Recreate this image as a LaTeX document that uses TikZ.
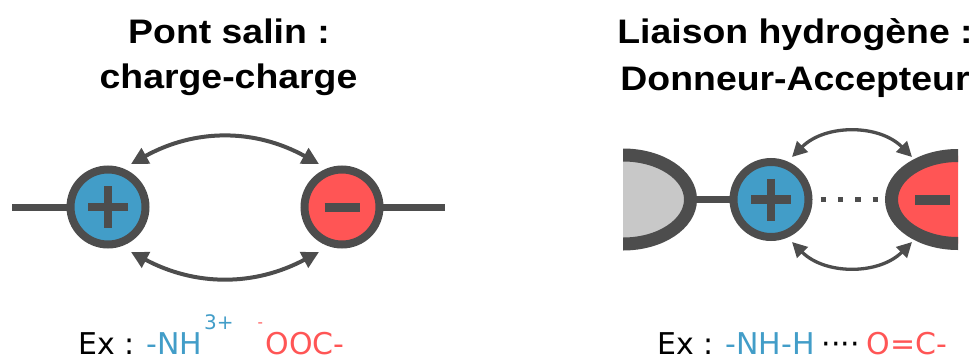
\documentclass[tikz,border=0pt]{standalone}
\usepackage{fontspec}
\usetikzlibrary{arrows.meta,calc}
\newfontfamily\titlefont[FakeStretch=1.1]{Liberation Sans}
\newfontfamily\exfont{DejaVu Sans}
\definecolor{ink}{HTML}{4D4D4D}
\definecolor{posblue}{HTML}{429DC8}
\definecolor{negred}{HTML}{FF5555}
\definecolor{fillgray}{HTML}{C8C8C8}
\begin{document}
\begin{tikzpicture}[x=1pt,y=-1pt,
  title/.style={font=\titlefont\bfseries\fontsize{34}{38}\selectfont, anchor=base, inner sep=0},
  extext/.style={font=\exfont\fontsize{30}{32}\selectfont, anchor=base west, inner sep=0, text depth=0pt},
  charge/.style={circle, draw=ink, line width=8pt, minimum size=75pt, inner sep=0, outer sep=0},
  bond/.style={draw=ink, line width=7pt},
  sign/.style={draw=ink, line width=8.5pt},
  attract/.style={draw=ink, line width=4pt,
    {Triangle[length=17pt,width=17pt]}-{Triangle[length=17pt,width=17pt]}},
  attractsmall/.style={draw=ink, line width=3.3pt,
    {Triangle[length=15pt,width=15pt]}-{Triangle[length=15pt,width=15pt]}},
  blob/.style={draw=ink, line width=13pt}
]
\useasboundingbox (0,0) rectangle (976,359);

% ---------- titles ----------
\node[title] (t1a) at (229,43) {Pont salin :};
\node[title] (t1b) at (228.5,88) {charge-charge};
\node[title] (t2a) at (795,43) {Liaison hydrogène :};
\node[title] (t2b) at (795,90) {Donneur-Accepteur};

% ---------- salt bridge ----------
\node[charge, fill=posblue] (pa) at (108,207) {};
\node[charge, fill=negred] (na) at (342,207) {};
\coordinate (lend) at (12,207);
\coordinate (rend) at (445,207);
\draw[bond] (lend) -- (pa.west);
\draw[bond] (na.east) -- (rend);
\draw[sign] ($(pa)+(-20,0)$) -- ($(pa)+(20,0)$);
\draw[sign] ($(pa)+(0,-21)$) -- ($(pa)+(0,21)$);
\draw[sign, line width=9pt] ($(na)+(-17.5,0)$) -- ($(na)+(17.5,0)$);
\draw[attract] ($(pa)+(23,-43)$) to[out=29,in=151] ($(na)+(-23,-43)$);
\draw[attract] ($(pa)+(23,45)$) to[out=-28,in=-152] ($(na)+(-23,45)$);

% ---------- hydrogen bond ----------
\coordinate (don) at (623,199.5);
\coordinate (acc) at (958,199.5);
\begin{scope}
  \clip (623,140) rectangle (720,260);
  \draw[blob, fill=fillgray] (don) ellipse [x radius=67.5pt, y radius=44.5pt];
\end{scope}
\begin{scope}
  \clip (860,140) rectangle (958,260);
  \draw[blob, fill=negred] (acc) ellipse [x radius=66.5pt, y radius=44pt];
\end{scope}
\draw[sign, line width=10pt] ($(acc)+(-43,0)$) -- ($(acc)+(-8,0)$);
\node[charge, fill=posblue] (pb) at (771,199.5) {};
\draw[bond] ($(don)+(68,0)$) -- (pb.west);
\draw[sign] ($(pb)+(-20,0)$) -- ($(pb)+(20,0)$);
\draw[sign] ($(pb)+(0,-21)$) -- ($(pb)+(0,21)$);
\draw[draw=ink, line width=5.5pt, dash pattern=on 5.5pt off 11.8pt, dash phase=5.2pt]
  (pb.east) -- ($(acc)+(-78,0)$);
\draw[attractsmall] ($(pb)+(21,-42.5)$) to[out=45,in=135] ($(acc)+(-46,-42.5)$);
\draw[attractsmall] ($(pb)+(21,42.5)$) to[out=-45,in=-135] ($(acc)+(-46,42.5)$);

% ---------- examples ----------
\node[extext] (exa) at (78,354) {Ex :};
\node[extext, text=posblue] (nha) at (146,354) {-NH};
\node[extext, text=posblue, font=\exfont\fontsize{20}{22}\selectfont] (supa) at (204,329) {3+};
\node[extext, text=negred, font=\exfont\fontsize{15}{16}\selectfont] (supb) at (257.5,327) {-};
\node[extext, text=negred] (ooc) at (265.5,354) {OOC-};

\node[extext] (exb) at (657,354) {Ex :};
\node[extext, text=posblue] (nhb) at (725.5,354) {-NH-H};
\node[extext] (dots) at (821.5,354) {····};
\node[extext, text=negred] (oc) at (866.5,354) {O=C-};
\end{tikzpicture}
\end{document}
